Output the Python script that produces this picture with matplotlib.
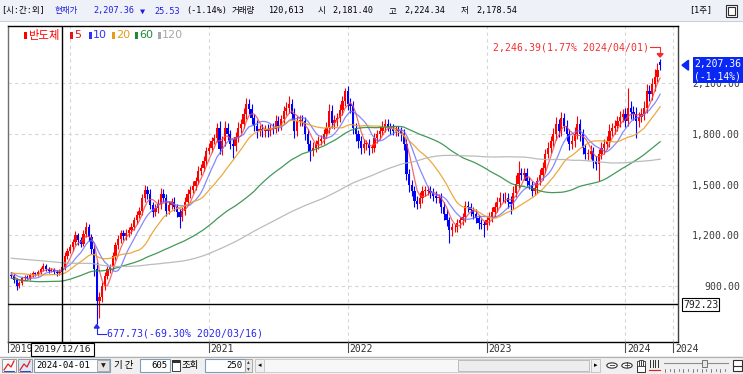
import numpy as np
import pandas as pd
import matplotlib
matplotlib.use("Agg")
import matplotlib.pyplot as plt
from matplotlib.patches import Rectangle, Polygon, Circle
from matplotlib.lines import Line2D

# ---------------- data ----------------
start_date = "2019-08-05"          # first visible weekly candle
# weekly closes before the visible window (needed so the 60/120 MAs exist at the left edge)
prehist = [1080, 1090, 1100, 1095, 1110, 1120, 1130, 1125, 1140, 1150, 1145, 1160, 1170, 1155, 1165, 1175, 1180, 1185, 1190,
           1200, 1215, 1230, 1220, 1205, 1190, 1180, 1195, 1210, 1225,
           1240, 1235, 1220, 1200, 1185, 1170, 1180, 1195, 1210, 1220,
           1230, 1215, 1200, 1190, 1175, 1185, 1200, 1215, 1225, 1210,
           1195, 1180, 1190, 1205, 1215, 1200, 1185, 1175, 1190, 1200, 1185,
           1150, 1120, 1100, 1080, 1090, 1060, 1040, 1050, 1030, 1010, 1020, 1000, 990, 970, 980, 960, 950, 940, 930,
           910, 890, 870, 860, 850, 840, 830, 820, 835, 845, 830, 820, 815, 830, 840, 850, 845, 855, 860, 870, 880,
           900, 920, 940, 960, 975, 990, 1000, 1010, 995, 985, 1000, 1010, 990, 980, 970, 985, 975, 960, 965]

closes = [960, 935, 900, 915, 945, 955, 950, 965, 975, 970,
          985, 1000, 1020, 1000, 990, 995, 985, 975, 985, 1010,
          1080, 1110, 1130, 1160, 1200, 1170, 1150, 1210, 1247, 1190,
          1120, 1000, 810, 835, 900, 960, 1000, 1012, 1080, 1140,
          1180, 1212, 1195, 1212, 1230, 1250, 1290, 1320, 1347, 1420,
          1470, 1447, 1380, 1340, 1360, 1388, 1447, 1424, 1347, 1380,
          1400, 1365, 1340, 1306, 1347, 1400, 1447, 1470, 1494, 1523,
          1582, 1600, 1641, 1700, 1718, 1759, 1776, 1835, 1712, 1760,
          1835, 1800, 1741, 1729, 1780, 1835, 1860, 1918, 1976, 1950,
          1894, 1850, 1818, 1830, 1815, 1829, 1820, 1835, 1829, 1876,
          1850, 1890, 1935, 1955, 1976, 1918, 1818, 1876, 1880, 1876,
          1800, 1741, 1700, 1720, 1741, 1760, 1771, 1800, 1835, 1935,
          1865, 1880, 1894, 1940, 1994, 2053, 1976, 1965, 1835, 1800,
          1760, 1718, 1741, 1741, 1718, 1718, 1776, 1800, 1818, 1840,
          1859, 1840, 1829, 1818, 1820, 1818, 1800, 1741, 1565, 1500,
          1465, 1406, 1388, 1424, 1465, 1465, 1465, 1450, 1435, 1424,
          1424, 1365, 1329, 1290, 1229, 1247, 1250, 1271, 1290, 1306,
          1376, 1365, 1350, 1329, 1300, 1271, 1265, 1259, 1290, 1306,
          1340, 1365, 1400, 1424, 1420, 1424, 1400, 1388, 1450, 1506,
          1571, 1560, 1571, 1523, 1500, 1465, 1482, 1523, 1560, 1600,
          1682, 1718, 1759, 1800, 1859, 1818, 1894, 1850, 1800, 1741,
          1759, 1800, 1859, 1800, 1718, 1682, 1682, 1700, 1641, 1623,
          1682, 1718, 1740, 1759, 1818, 1835, 1850, 1876, 1900, 1918,
          1876, 1953, 1930, 1918, 1876, 1900, 1918, 1953, 2053, 2035,
          2094, 2140, 2180, 2207.36]

# opens follow the previous close except where a gap is visible
open_gaps = {243: 2228.0}

up_wick = [15, 10, 12, 14, 10, 12, 10, 12, 15, 10,
           12, 15, 18, 12, 10, 12, 10, 12, 15, 20,
           20, 15, 20, 18, 25, 15, 20, 22, 30, 20,
           20, 20, 40, 30, 25, 20, 18, 20, 20, 22,
           20, 22, 20, 25, 20, 25, 20, 25, 20, 25,
           30, 20, 25, 20, 25, 30, 35, 25, 20, 25,
           20, 25, 20, 15, 20, 25, 25, 20, 25, 25,
           30, 25, 30, 25, 30, 25, 25, 30, 40, 30,
           40, 30, 25, 30, 30, 35, 30, 35, 40, 30,
           30, 25, 30, 25, 30, 25, 30, 25, 30, 35,
           30, 25, 30, 35, 48, 30, 35, 30, 30, 30,
           25, 30, 25, 30, 25, 30, 25, 30, 35, 40,
           35, 30, 30, 35, 30, 18, 30, 35, 30, 30,
           25, 30, 30, 25, 30, 25, 30, 25, 30, 35,
           30, 30, 25, 30, 25, 30, 25, 30, 30, 25,
           25, 30, 25, 30, 25, 30, 25, 25, 30, 25,
           20, 25, 30, 25, 20, 25, 20, 25, 20, 25,
           30, 25, 25, 20, 25, 20, 25, 20, 25, 30,
           25, 30, 25, 30, 25, 30, 25, 30, 40, 50,
           70, 30, 25, 30, 25, 20, 30, 25, 30, 35,
           30, 35, 30, 35, 40, 30, 35, 30, 35, 30,
           35, 40, 45, 30, 30, 25, 30, 35, 25, 30,
           30, 35, 30, 30, 40, 30, 35, 30, 35, 30,
           35, 118, 40, 35, 40, 30, 35, 40, 45, 40,
           40, 45, 40, 18.39]

dn_wick = [15, 20, 25, 12, 10, 12, 10, 12, 10, 12,
           12, 15, 12, 10, 12, 10, 12, 15, 10, 12,
           15, 20, 15, 20, 15, 25, 20, 15, 20, 25,
           30, 40, 132.27, 98, 30, 25, 20, 25, 20, 25,
           20, 25, 20, 25, 20, 25, 20, 25, 20, 25,
           25, 30, 25, 30, 25, 25, 30, 25, 30, 20,
           25, 20, 30, 65, 20, 25, 20, 25, 20, 25,
           20, 25, 20, 25, 20, 25, 20, 25, 30, 35,
           30, 35, 30, 70, 30, 25, 30, 25, 30, 30,
           35, 30, 40, 30, 35, 30, 40, 30, 30, 25,
           30, 25, 30, 25, 30, 35, 40, 30, 30, 30,
           35, 40, 59, 30, 25, 30, 25, 30, 25, 30,
           30, 35, 30, 25, 30, 30, 35, 40, 35, 40,
           40, 35, 30, 35, 40, 30, 25, 30, 30, 25,
           30, 25, 30, 25, 30, 30, 40, 35, 40, 45,
           35, 40, 30, 25, 30, 30, 25, 30, 30, 35,
           30, 35, 40, 35, 76, 30, 25, 30, 25, 30,
           30, 25, 35, 30, 25, 35, 30, 71, 25, 30,
           25, 30, 25, 30, 25, 30, 40, 60, 30, 25,
           25, 30, 35, 30, 25, 30, 25, 30, 25, 30,
           30, 25, 30, 30, 35, 35, 30, 35, 40, 35,
           30, 35, 30, 40, 35, 30, 35, 30, 40, 35,
           100, 30, 35, 30, 35, 30, 35, 30, 35, 30,
           35, 30, 40, 35, 100, 35, 30, 35, 30, 40,
           35, 40, 35, 28.82]

ma_windows = [5, 10, 20, 60, 120]
ma_colors = ["#F04848", "#6A6AFF", "#EAA02A", "#2E8E46", "#B4B4B4"]
legend_labels = ["반도체", "5", "10", "20", "60", "120"]
legend_colors = ["#FF0000", "#E81010", "#3030FF", "#E89A18", "#1E8A3A", "#A8A8A8"]
yticks = [900, 1200, 1500, 1800, 2100]
cross_date = "2019-12-16"
hline_val = 792.23
cur_price = 2207.36
cur_pct = -1.14
hi_pct = 1.77
lo_pct = -69.30
header_items = [  # (x px, text, colour)
    (1, "[시:간:외]", "#000000"), (55, "현재가", "#1C1CE0"), (93, "2,207.36", "#1C1CE0"),
    (140, "▼", "#1C1CE0"), (154, "25.53", "#1C1CE0"), (186, "(-1.14%)", "#000000"),
    (232, "거래량", "#000000"), (268, "120,613", "#000000"), (318, "시", "#000000"),
    (332, "2,181.40", "#000000"), (389, "고", "#000000"), (404, "2,224.34", "#000000"),
    (461, "저", "#000000"), (476, "2,178.54", "#000000"), (689, "[1주]", "#000000")]

# ---------------- derived series ----------------
full = np.array(prehist + closes, dtype=float)
npre = len(prehist)
c = full[npre:]
o = np.r_[full[npre - 1], c[:-1]].copy()
for k, v in open_gaps.items():
    o[k] = v
hi = np.maximum(o, c) + np.array(up_wick)
lo = np.minimum(o, c) - np.array(dn_wick)
n = len(c)
idx = np.arange(n)
dates = pd.date_range(start_date, periods=n, freq="W-MON")
mas = [pd.Series(full).rolling(w).mean().values[npre:] for w in ma_windows]

# ---------------- figure ----------------
W, H = 743, 374
fig = plt.figure(figsize=(W / 100, H / 100), dpi=100)
fig.patch.set_facecolor("white")
MONO = ["DejaVu Sans Mono", "Noto Sans CJK KR"]
KR = ["Noto Sans CJK KR", "DejaVu Sans"]

AX_L, AX_R, AX_T, AX_B = 8, 678, 26, 342
XMIN, XMAX = -1.24, 249.7
YMIN, YMAX = 568.4, 2439.5
ax = fig.add_axes([AX_L / W, 1 - AX_B / H, (AX_R - AX_L) / W, (AX_B - AX_T) / H])
ax.set_xlim(XMIN, XMAX)
ax.set_ylim(YMIN, YMAX)


def i2px(i):
    return AX_L + (i - XMIN) / (XMAX - XMIN) * (AX_R - AX_L)


def v2py(v):
    return AX_T + (YMAX - v) / (YMAX - YMIN) * (AX_B - AX_T)


def fx(px):
    return px / W


def fy(py):
    return 1 - py / H


def T(px, py, s, **kw):
    kw.setdefault("va", "center")
    kw.setdefault("ha", "left")
    return fig.text(fx(px), fy(py), s, **kw)


def R(x0, y0, x1, y1, fc="none", ec="none", lw=0.8, z=5):
    r = Rectangle((fx(x0), fy(y1)), fx(x1) - fx(x0), fy(y0) - fy(y1), transform=fig.transFigure,
                  facecolor=fc, edgecolor=ec, linewidth=lw, zorder=z)
    fig.add_artist(r)
    return r


def L(xs, ys, color="k", lw=0.8, z=6):
    fig.add_artist(Line2D([fx(x) for x in xs], [fy(y) for y in ys], color=color, lw=lw,
                          transform=fig.transFigure, zorder=z))


# grid
year_idx = [i for i in range(1, n) if dates[i].year != dates[i - 1].year]
for yt in yticks:
    ax.axhline(yt, color="#D6D6D6", lw=0.8, ls=(0, (3, 3)), zorder=0)
extra_grid = 248
for xi in year_idx + [extra_grid]:
    ax.axvline(xi, color="#D6D6D6", lw=0.8, ls=(0, (3, 3)), zorder=0)

# candles
up = c >= o
cols = np.where(up, "#FF0000", "#0000FF")
ax.vlines(idx, lo, hi, colors=cols, lw=0.8, zorder=2)
body = np.maximum(np.abs(c - o), 4)
ax.bar(idx, body, bottom=np.minimum(o, c), width=0.85, color=cols, lw=0, zorder=3)

# moving averages
for m, col, w in zip(mas, ma_colors, ma_windows):
    ax.plot(idx, m, color=col, lw=0.9, alpha=0.9 if w >= 20 else 0.8, zorder=4)

# reference line and crosshair
ax.axhline(hline_val, color="#000000", lw=1.0, zorder=5)
ci = int(np.where(dates == pd.Timestamp(cross_date))[0][0])
ax.axvline(ci, color="#000000", lw=1.0, zorder=5)

# spines / ticks
for s, colr in [("top", "#000000"), ("left", "#707070"), ("right", "#404040"), ("bottom", "#000000")]:
    ax.spines[s].set_color(colr)
    ax.spines[s].set_linewidth(1.0)
ax.set_xticks([])
ax.yaxis.tick_right()
ax.set_yticks(yticks)
ax.set_yticklabels([f"{v:,.2f}" for v in yticks], fontsize=7.1, family=MONO, color="#3A3A3A")
ax.tick_params(axis="y", length=0, pad=(740 - AX_R) * 0.72)
for lab in ax.get_yticklabels():
    lab.set_horizontalalignment("right")

# x labels
xlabels = [(XMIN + 0.05, str(dates[0].year))] + [(i, str(dates[i].year)) for i in year_idx] + \
          [(extra_grid, str(dates[-1].year))]
for i, s in xlabels:
    px = i2px(i)
    if abs(px - i2px(ci)) < 20:
        continue
    L([px, px], [AX_B, AX_B + 10], color="#505050", lw=0.8)
    T(px + 1.5, 349, s, fontsize=7, family=MONO, color="#303030")
cx = i2px(ci)
R(cx - 31, 343, cx + 32, 356, fc="white", ec="#000000", lw=0.8, z=7)
T(cx + 0.5, 349.5, dates[ci].strftime("%Y/%m/%d"), fontsize=6.8, family=MONO, color="#202020",
  ha="center", zorder=8)

# high / low annotations
hi_i = int(np.argmax(hi))
hx, hy = i2px(hi_i), v2py(hi[hi_i])
T(hx - 11, hy - 11.5, f"{hi[hi_i]:,.2f}({hi_pct:.2f}% {dates[hi_i].strftime('%Y/%m/%d')})",
  fontsize=7.1, family=MONO, color="#F03030", ha="right")
L([hx - 10, hx, hx], [hy - 11.5, hy - 11.5, hy - 4], color="#F03030", lw=0.8)
fig.add_artist(Polygon([(fx(hx - 3), fy(hy - 5)), (fx(hx + 3), fy(hy - 5)), (fx(hx), fy(hy - 1.5))],
                       closed=True, transform=fig.transFigure, color="#F03030", zorder=6))
lo_i = int(np.argmin(lo))
lx, ly = i2px(lo_i), v2py(lo[lo_i])
fig.add_artist(Polygon([(fx(lx - 2.5), fy(ly + 4.5)), (fx(lx + 2.5), fy(ly + 4.5)), (fx(lx), fy(ly + 1))],
                       closed=True, transform=fig.transFigure, color="#2828F0", zorder=6))
L([lx, lx, lx + 9], [ly + 4, ly + 10, ly + 10], color="#2828F0", lw=0.8)
T(lx + 10.5, ly + 10, f"{lo[lo_i]:,.2f}({lo_pct:.2f}% {dates[lo_i].strftime('%Y/%m/%d')})",
  fontsize=7.1, family=MONO, color="#2828F0")

# current price marker / box (drawn over the hidden 2,100.00 label as in the reference)
py = v2py(cur_price)
fig.add_artist(Polygon([(fx(682), fy(py)), (fx(688.5), fy(py - 5)), (fx(688.5), fy(py + 5))], closed=True,
                       transform=fig.transFigure, color="#0A28F5", zorder=7))
R(693, py - 8, 743, py + 18, fc="#0A28F5", z=7)
T(741, py - 1, f"{cur_price:,.2f}", fontsize=7, family=MONO, color="white", ha="right", zorder=8)
T(741, py + 11.5, f"({cur_pct:.2f}%)", fontsize=7, family=MONO, color="white", ha="right", zorder=8)
# reference-line value box
pyl = v2py(hline_val)
R(682, pyl - 6, 719, pyl + 7, fc="white", ec="#000000", lw=0.8, z=7)
T(700.5, pyl + 0.5, f"{hline_val:.2f}", fontsize=7, family=MONO, color="#202020", ha="center", zorder=8)

# legend
lx0 = 24
for lab, colr in zip(legend_labels, legend_colors):
    R(lx0, 31.5, lx0 + 2.5, 38.5, fc=colr, z=7)
    if lab == "반도체":
        T(lx0 + 4, 35, lab, fontsize=8.2, family=KR, color=colr, zorder=8)
    else:
        T(lx0 + 4, 35, lab, fontsize=8, family=["DejaVu Sans"], color=colr, zorder=8)
    lx0 += {"반도체": 46, "5": 19, "10": 23, "20": 23, "60": 23}.get(lab, 25)

# header
R(0, 0, W, 21, fc="#EEF2F8", z=1)
L([0, W], [21, 21], color="#C8D0DC", lw=0.8, z=2)
for x, s, colr in header_items:
    T(x, 11, s, fontsize=6.1, family=MONO, color=colr, zorder=8)
R(726, 5, 737, 17, fc="white", ec="#303030", lw=0.8, z=7)
R(728, 7.5, 735, 14.5, fc="none", ec="#303030", lw=0.8, z=8)

# bottom toolbar
R(0, 356, W, H, fc="#F0F0F0", z=1)
L([0, W], [356.5, 356.5], color="#B0B0B0", lw=0.8, z=2)
for x0 in (2, 18):
    R(x0, 359, x0 + 14, 372, fc="#F8F8F8" if x0 == 2 else "#DDE8F8", ec="#8C8C8C", lw=0.6, z=5)
    L([x0 + 2, x0 + 6, x0 + 9, x0 + 12], [370, 364, 367, 361], color="#E02020", lw=0.9, z=6)
    L([x0 + 2, x0 + 12], [370.5, 370.5], color="#2020C0", lw=0.6, z=6)
R(34, 359, 110, 372, fc="white", ec="#7F9DB9", lw=0.8, z=5)
T(36, 365.8, "2024-04-01", fontsize=6.5, family=MONO, color="#000000", zorder=8)
R(97, 360, 109, 371, fc="#E4E4E4", ec="#A0A0A0", lw=0.6, z=6)
T(103, 365.8, "▼", fontsize=4.5, family="DejaVu Sans", color="#202020", ha="center", zorder=8)
T(114, 365.5, "기 간", fontsize=6.8, family=KR, color="#000000", zorder=8)
R(140, 359, 170, 372, fc="white", ec="#7F9DB9", lw=0.8, z=5)
T(168, 365.8, "605", fontsize=6.5, family=MONO, color="#000000", ha="right", zorder=8)
R(172, 360, 180, 371, fc="white", ec="#404040", lw=0.7, z=6)
R(172, 360, 180, 362.5, fc="#303030", z=7)
T(181, 365.5, "조회", fontsize=6.8, family=KR, color="#000000", zorder=8)
R(205, 359, 245, 372, fc="white", ec="#7F9DB9", lw=0.8, z=5)
T(242, 365.8, "250", fontsize=6.5, family=MONO, color="#000000", ha="right", zorder=8)
R(245, 359, 252, 372, fc="#E8E8E8", ec="#A0A0A0", lw=0.6, z=5)
T(248.5, 362, "▴", fontsize=4, family="DejaVu Sans", color="#404040", ha="center", zorder=8)
T(248.5, 369, "▾", fontsize=4, family="DejaVu Sans", color="#404040", ha="center", zorder=8)
R(255, 359, 264, 372, fc="#F0F0F0", ec="#C0C0C0", lw=0.6, z=5)
T(259.5, 365.5, "◂", fontsize=5, family="DejaVu Sans", color="#000000", ha="center", zorder=8)
R(264, 359, 591, 372, fc="#F7F7F7", ec="#C8C8C8", lw=0.6, z=5)
R(458, 360, 589, 371, fc="#EDEDED", ec="#B4B4B4", lw=0.6, z=6)
R(591, 359, 600, 372, fc="#F0F0F0", ec="#C0C0C0", lw=0.6, z=5)
T(595.5, 365.5, "▸", fontsize=5, family="DejaVu Sans", color="#000000", ha="center", zorder=8)
for cxp, sym in ((612, "−"), (627, "+")):
    fig.add_artist(Circle((fx(cxp), fy(365.5)), 5.2 / W, transform=fig.transFigure, facecolor="white",
                          edgecolor="#303030", lw=0.8, zorder=6))
    T(cxp, 365.5, sym, fontsize=6, family="DejaVu Sans", color="#202020", ha="center", zorder=8)
# hand tool icon (glyph not available in installed fonts) drawn as a shape
R(636.5, 365, 644.5, 372, fc="white", ec="#303030", lw=0.7, z=6)
for k in range(4):
    R(636.8 + 2 * k, 359.5 + (k % 3 == 0) * 1.5, 638.6 + 2 * k, 366, fc="white", ec="#303030", lw=0.6, z=6)
for k in range(4):
    L([650 + 2.5 * k, 650 + 2.5 * k], [360, 367], color="#303030", lw=0.7)
L([649, 660], [370, 370], color="#E02020", lw=0.8)
L([664, 728], [363, 363], color="#8C8C8C", lw=0.8)
R(702, 359.5, 707, 366.5, fc="#E8E8E8", ec="#606060", lw=0.6, z=7)
for k in range(14):
    xx = 665 + k * 4.6
    L([xx, xx], [369, 371 if k % 2 else 372], color="#505050", lw=0.5)
R(733, 360, 742, 371, fc="white", ec="#303030", lw=0.8, z=6)
L([734, 741], [365.5, 365.5], color="#303030", lw=0.8, z=7)

fig.savefig("out.png", dpi=100, facecolor="white")
